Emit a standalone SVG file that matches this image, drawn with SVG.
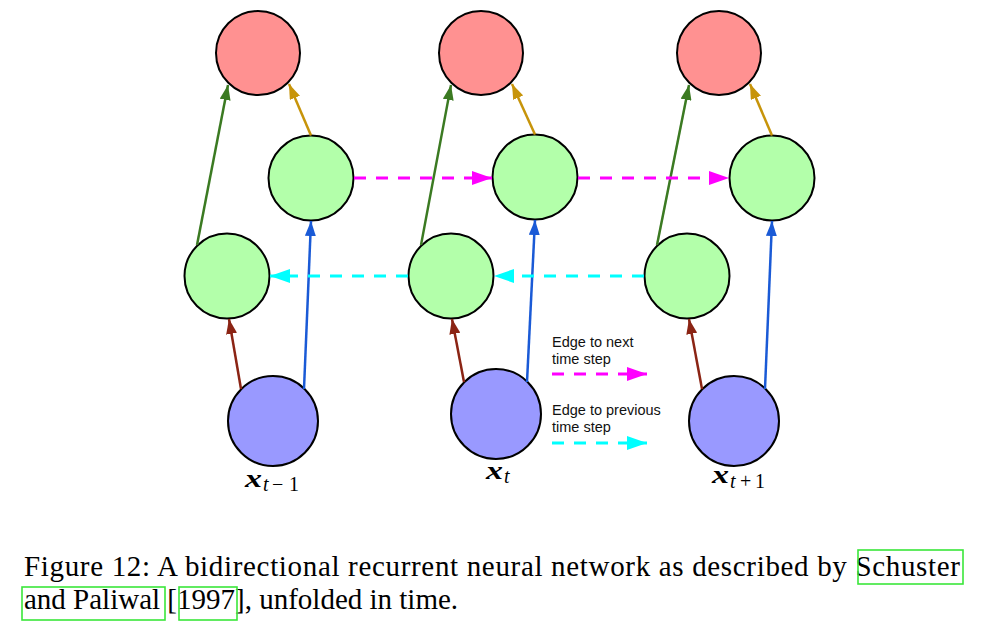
<svg xmlns="http://www.w3.org/2000/svg" width="986" height="624" viewBox="0 0 986 624">
<style>
.out{fill:#ff9191;stroke:#000;stroke-width:2}
.hid{fill:#b3ffaa;stroke:#000;stroke-width:2}
.inp{fill:#9999ff;stroke:#000;stroke-width:2}
.e{fill:none;stroke-width:2.5}
.g{stroke:#3b7a22}
.o{stroke:#c7940a}
.b{stroke:#1a5ad6}
.r{stroke:#8b2414}
.fw{stroke:#ff00ff;stroke-width:3;stroke-dasharray:12 10;fill:none}
.bw{stroke:#00ffff;stroke-width:3;stroke-dasharray:12 10;fill:none}
.leg{font-family:"Liberation Sans",Arial,sans-serif;font-size:14.5px;fill:#111}
.mx{font-family:"Liberation Serif","Times New Roman",serif;font-size:25px;font-weight:bold;font-style:italic;fill:#000}
.ms{font-family:"Liberation Serif","Times New Roman",serif;font-size:20px;fill:#000}
.cap{font-family:"Liberation Serif","Times New Roman",serif;font-size:29px;fill:#000}
.box{fill:none;stroke:#3ae63a;stroke-width:1.6}
</style>
<defs>
<marker id="mg" markerUnits="userSpaceOnUse" markerWidth="15" markerHeight="11" refX="15" refY="5.5" orient="auto"><path d="M0,0L15,5.5L0,11z" fill="#3b7a22"/></marker>
<marker id="mo" markerUnits="userSpaceOnUse" markerWidth="15" markerHeight="11" refX="15" refY="5.5" orient="auto"><path d="M0,0L15,5.5L0,11z" fill="#c7940a"/></marker>
<marker id="mb" markerUnits="userSpaceOnUse" markerWidth="15" markerHeight="11" refX="15" refY="5.5" orient="auto"><path d="M0,0L15,5.5L0,11z" fill="#1a5ad6"/></marker>
<marker id="mr" markerUnits="userSpaceOnUse" markerWidth="15" markerHeight="11" refX="15" refY="5.5" orient="auto"><path d="M0,0L15,5.5L0,11z" fill="#8b2414"/></marker>
<marker id="mm" markerUnits="userSpaceOnUse" markerWidth="20" markerHeight="14" refX="20" refY="7" orient="auto"><path d="M0,0L20,7L0,14z" fill="#ff00ff"/></marker>
<marker id="mc" markerUnits="userSpaceOnUse" markerWidth="20" markerHeight="14" refX="20" refY="7" orient="auto"><path d="M0,0L20,7L0,14z" fill="#00ffff"/></marker>
</defs>

<g id="y_t-1"><circle class="out" cx="258" cy="53" r="42"/></g>
<g id="hf_t-1"><circle class="hid" cx="311" cy="178" r="42.5"/></g>
<g id="hb_t-1"><circle class="hid" cx="227" cy="276" r="42.5"/></g>
<g id="x_t-1"><circle class="inp" cx="273" cy="421" r="45"/>
<text class="mx" x="245" y="487" textLength="17" lengthAdjust="spacingAndGlyphs">x</text><text class="ms" x="263" y="491" font-style="italic">t</text><text class="ms" x="272" y="491">−</text><text class="ms" x="289" y="491">1</text></g>

<g id="y_t"><circle class="out" cx="481" cy="53" r="42"/></g>
<g id="hf_t"><circle class="hid" cx="535" cy="177" r="42.5"/></g>
<g id="hb_t"><circle class="hid" cx="451" cy="276" r="42.5"/></g>
<g id="x_t"><circle class="inp" cx="496" cy="414" r="45"/>
<text class="mx" x="486" y="479" textLength="17" lengthAdjust="spacingAndGlyphs">x</text><text class="ms" x="504" y="483" font-style="italic">t</text></g>

<g id="y_t+1"><circle class="out" cx="719" cy="53" r="42"/></g>
<g id="hf_t+1"><circle class="hid" cx="772" cy="178" r="42.5"/></g>
<g id="hb_t+1"><circle class="hid" cx="687" cy="276" r="42.5"/></g>
<g id="x_t+1"><circle class="inp" cx="734" cy="421" r="45"/>
<text class="mx" x="712" y="483" textLength="17" lengthAdjust="spacingAndGlyphs">x</text><text class="ms" x="730" y="488" font-style="italic">t</text><text class="ms" x="740" y="488">+</text><text class="ms" x="755" y="488">1</text></g>

<g id="connectors">
<line class="e g" x1="197" y1="245" x2="228" y2="85" marker-end="url(#mg)" stroke-width="2"/>
<line class="e o" x1="311" y1="135.5" x2="289" y2="84" marker-end="url(#mo)"/>
<line class="e b" x1="304" y1="389" x2="311" y2="221" marker-end="url(#mb)"/>
<line class="e r" x1="241" y1="389" x2="229" y2="319" marker-end="url(#mr)"/>

<line class="e g" x1="421" y1="245" x2="451" y2="85" marker-end="url(#mg)" stroke-width="2"/>
<line class="e o" x1="535" y1="134.5" x2="512" y2="84" marker-end="url(#mo)"/>
<line class="e b" x1="527" y1="382" x2="535" y2="220" marker-end="url(#mb)"/>
<line class="e r" x1="464" y1="382" x2="452" y2="319" marker-end="url(#mr)"/>

<line class="e g" x1="657" y1="245" x2="689" y2="85" marker-end="url(#mg)" stroke-width="2"/>
<line class="e o" x1="772" y1="135.5" x2="750" y2="84" marker-end="url(#mo)"/>
<line class="e b" x1="765" y1="389" x2="772" y2="221" marker-end="url(#mb)"/>
<line class="e r" x1="702" y1="389" x2="689" y2="319" marker-end="url(#mr)"/>

<line class="fw" x1="354" y1="178" x2="492" y2="178" marker-end="url(#mm)"/>
<line class="fw" x1="578" y1="178" x2="729" y2="178" marker-end="url(#mm)"/>
<line class="bw" x1="408" y1="276" x2="270" y2="276" marker-end="url(#mc)"/>
<line class="bw" x1="644" y1="276" x2="494" y2="276" marker-end="url(#mc)"/>
</g>

<g id="legend">
<text class="leg" x="552" y="347">Edge to next</text>
<text class="leg" x="552" y="364">time step</text>
<line class="fw" x1="552" y1="374" x2="647" y2="374" marker-end="url(#mm)"/>
<text class="leg" x="552" y="415">Edge to previous</text>
<text class="leg" x="552" y="432">time step</text>
<line class="bw" x1="552" y1="443" x2="647" y2="443" marker-end="url(#mc)"/>
</g>

<g id="caption">
<text class="cap" x="24" y="576" textLength="936" lengthAdjust="spacing">Figure 12: A bidirectional recurrent neural network as described by Schuster</text>
<text class="cap" x="24" y="609">and Paliwal [1997], unfolded in time.</text>
<rect class="box" x="858" y="550" width="105" height="34"/>
<rect class="box" x="22" y="587" width="143" height="33"/>
<rect class="box" x="179" y="587" width="58" height="33"/>
</g>
</svg>
